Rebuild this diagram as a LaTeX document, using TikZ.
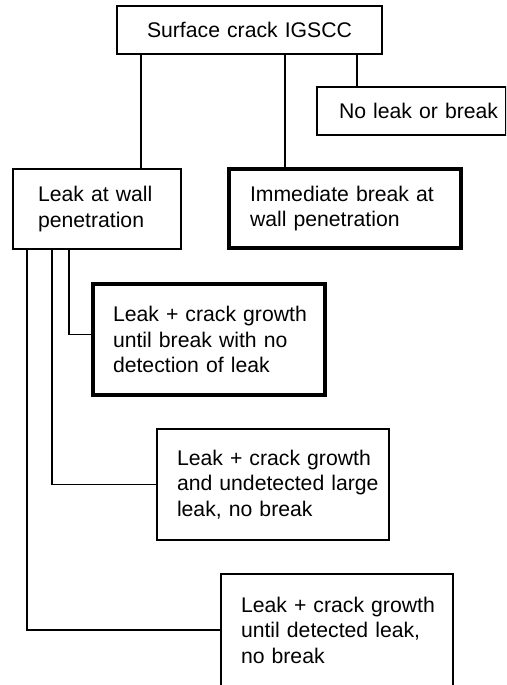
\documentclass[tikz,border=0pt]{standalone}
\usepackage{fontspec}
\setmainfont{Liberation Sans}
\usepackage{tikz}

\begin{document}
\begin{tikzpicture}[x=1pt,y=-1pt,bx/.style n args={4}{draw,rectangle,anchor=north west,outer sep=0pt,inner sep=0pt,minimum width=#1pt,minimum height=#2pt,text width=#1pt,align=left,line width=#4pt,font=\fontsize{21.2}{25.5}\selectfont,execute at begin node={\leftskip=#3pt}},ln/.style={line width=1.1pt}]
\useasboundingbox (0,0) rectangle (506,685);
\clip (0,0) rectangle (506,685);
\node[bx={265}{48}{30}{1.1}] (crack) at (117,6) {Surface crack IGSCC};
\node[bx={189}{48}{22}{1.1}] (noleak) at (317,87) {No leak or break};
\node[bx={168}{80}{25}{1.1}] (leak) at (13,169) {Leak at wall\\penetration};
\node[bx={232}{79}{21}{3.6}] (brk) at (229,169) {Immediate break at\\wall penetration};
\node[bx={232}{111}{20}{3.6}] (nodet) at (93,284) {Leak + crack growth\\until break with no\\detection of leak};
\node[bx={232}{111}{20}{1.1}] (undet) at (157,429) {Leak + crack growth\\and undetected large\\leak, no break};
\node[bx={232}{112}{20}{1.1}] (det) at (221,574) {Leak + crack growth\\until detected leak,\\no break};
\foreach \x/\n in %
{141/leak,285/brk,357/noleak} {
   \draw[ln] (crack.south -| \x,0) -- (\n.north -| \x,0);
}
\foreach \x/\n/\d in %
{69/nodet/5,52/undet/0,27/det/0} {
   \draw[ln] (leak.south -| \x,0) |- ([yshift=\d pt]\n.west);
}
\end{tikzpicture}
\end{document}
